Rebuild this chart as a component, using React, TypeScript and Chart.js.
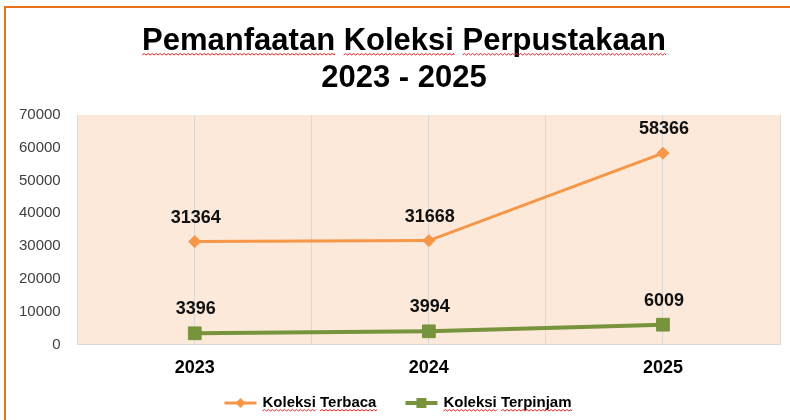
import React, { useEffect, useRef } from "react";
import { Chart, registerables } from "chart.js";

Chart.register(...registerables);

const categories = ["2023", "2024", "2025"];
const koleksiTerbaca = [31364, 31668, 58366];
const koleksiTerpinjam = [3396, 3994, 6009];
const seriesNames = ["Koleksi Terbaca", "Koleksi Terpinjam"];
const titleLines = ["Pemanfaatan Koleksi Perpustakaan", "2023 - 2025"];
const yMin = 0;
const yMax = 70000;
const yStep = 10000;

const FONT = '"Liberation Sans", Arial, sans-serif';

function wavy(ctx: CanvasRenderingContext2D, x1: number, x2: number, y: number) {
  ctx.save();
  ctx.strokeStyle = "#E02424";
  ctx.lineWidth = 1;
  ctx.beginPath();
  ctx.moveTo(x1, y + 1);
  let up = true;
  for (let x = x1; x < x2; x += 2) {
    ctx.lineTo(Math.min(x + 2, x2), up ? y - 0.5 : y + 1);
    up = !up;
  }
  ctx.stroke();
  ctx.restore();
}

function underlineWords(ctx: CanvasRenderingContext2D, text: string, left: number, y: number) {
  const words = text.split(/(\s+)/);
  let x = left;
  for (const w of words) {
    const wWidth = ctx.measureText(w).width;
    if (w.trim().length > 0) wavy(ctx, x, x + wWidth, y);
    x += wWidth;
  }
}

const framePlugin = {
  id: "frame",
  beforeDraw(chart: any) {
    const { ctx, chartArea } = chart;
    ctx.save();
    ctx.fillStyle = "#ffffff";
    ctx.fillRect(0, 0, chart.width, chart.height);
    ctx.fillStyle = "#FCE9DA";
    ctx.fillRect(chartArea.left, chartArea.top, chartArea.right - chartArea.left, chartArea.bottom - chartArea.top);
    ctx.strokeStyle = "#E8731A";
    ctx.lineWidth = 2;
    ctx.beginPath();
    ctx.moveTo(5, chart.height);
    ctx.lineTo(5, 7);
    ctx.lineTo(chart.width, 7);
    ctx.stroke();
    ctx.restore();
  },
  afterDraw(chart: any) {
    const { ctx } = chart;
    ctx.save();
    ctx.font = `bold 31px ${FONT}`;
    ctx.fillStyle = "#000000";
    ctx.textAlign = "left";
    ctx.textBaseline = "alphabetic";
    const cx = 404;
    const baselines = [50, 87];
    titleLines.forEach((t, i) => {
      const w = ctx.measureText(t).width;
      ctx.fillText(t, cx - w / 2, baselines[i]);
      if (i === 0) underlineWords(ctx, t, cx - w / 2, baselines[i] + 4);
    });
    ctx.restore();
  },
};

const dataLabelPlugin = {
  id: "dataLabels",
  afterDatasetsDraw(chart: any) {
    const { ctx } = chart;
    ctx.save();
    ctx.font = `bold 18px ${FONT}`;
    ctx.fillStyle = "#111111";
    ctx.textAlign = "center";
    ctx.textBaseline = "middle";
    chart.data.datasets.forEach((ds: any, i: number) => {
      const meta = chart.getDatasetMeta(i);
      meta.data.forEach((el: any, j: number) => {
        ctx.fillText(String(ds.data[j]), el.x + 1, el.y - 24);
      });
    });
    ctx.restore();
  },
};

const legendPlugin = {
  id: "lineLegend",
  afterDraw(chart: any) {
    const { ctx } = chart;
    ctx.save();
    ctx.font = `bold 15px ${FONT}`;
    const lineW = 32;
    const textGap = 6;
    const gap = 29;
    const items = chart.data.datasets.map((ds: any) => ({
      ds,
      w: lineW + textGap + ctx.measureText(ds.label).width,
    }));
    const total = items.reduce((s: number, it: any) => s + it.w, 0) + gap * (items.length - 1);
    let x = chart.width / 2 + 3 - total / 2;
    const y = 403;
    for (const it of items) {
      const ds = it.ds;
      ctx.strokeStyle = ds.borderColor;
      ctx.lineWidth = ds.borderWidth;
      ctx.beginPath();
      ctx.moveTo(x, y);
      ctx.lineTo(x + lineW, y);
      ctx.stroke();
      const mx = x + lineW / 2;
      ctx.fillStyle = ds.pointBackgroundColor;
      ctx.beginPath();
      if (ds.pointStyle === "rectRot") {
        const r = 5;
        ctx.moveTo(mx, y - r);
        ctx.lineTo(mx + r, y);
        ctx.lineTo(mx, y + r);
        ctx.lineTo(mx - r, y);
        ctx.closePath();
      } else {
        const s = 5;
        ctx.rect(mx - s, y - s, s * 2, s * 2);
      }
      ctx.fill();
      ctx.fillStyle = "#000000";
      ctx.textBaseline = "middle";
      ctx.textAlign = "left";
      const tx = x + lineW + textGap;
      ctx.fillText(ds.label, tx, y);
      underlineWords(ctx, ds.label, tx, y + 7);
      x += it.w + gap;
    }
    ctx.restore();
  },
};

export default function App() {
  const ref = useRef<HTMLCanvasElement | null>(null);

  useEffect(() => {
    document.body.style.margin = "0";
    if (!ref.current) return;
    const chart = new Chart(ref.current, {
      type: "line",
      data: {
        labels: categories,
        datasets: [
          {
            label: seriesNames[0],
            data: koleksiTerbaca,
            borderColor: "#F79646",
            backgroundColor: "#F79646",
            pointBackgroundColor: "#F79646",
            pointBorderColor: "#F79646",
            borderWidth: 3,
            pointStyle: "rectRot",
            pointRadius: 6,
            pointBorderWidth: 1,
            tension: 0,
          },
          {
            label: seriesNames[1],
            data: koleksiTerpinjam,
            borderColor: "#77933C",
            backgroundColor: "#77933C",
            pointBackgroundColor: "#77933C",
            pointBorderColor: "#77933C",
            borderWidth: 4,
            pointStyle: "rect",
            pointRadius: 9,
            pointBorderWidth: 1,
            tension: 0,
          },
        ],
      },
      options: {
        responsive: false,
        animation: false,
        layout: { padding: { left: 2, right: 10, top: 115, bottom: 28 } },
        plugins: {
          legend: { display: false },
          tooltip: { enabled: false },
          title: { display: false },
        },
        scales: {
          x: {
            type: "category",
            offset: true,
            grid: { display: false, drawTicks: false },
            border: { display: true, color: "#D9D9D9", width: 1 },
            ticks: {
              color: "#000000",
              font: { family: FONT, size: 18, weight: "bold" },
              padding: 13,
            },
          },
          x2: {
            type: "linear",
            position: "bottom",
            min: -0.5,
            max: 2.5,
            grid: { display: true, color: "#D9D9D9", lineWidth: 1, drawTicks: false },
            border: { display: false },
            ticks: { display: false, stepSize: 0.5 },
          },
          y: {
            min: yMin,
            max: yMax,
            grid: { display: false, drawTicks: false },
            border: { display: false },
            ticks: {
              stepSize: yStep,
              color: "#404040",
              font: { family: FONT, size: 15 },
              padding: 17,
              callback: (v: any) => String(v),
            },
          },
        },
      },
      plugins: [framePlugin, dataLabelPlugin, legendPlugin],
    });
    return () => chart.destroy();
  }, []);

  return <canvas ref={ref} width={790} height={420} style={{ display: "block" }} />;
}
